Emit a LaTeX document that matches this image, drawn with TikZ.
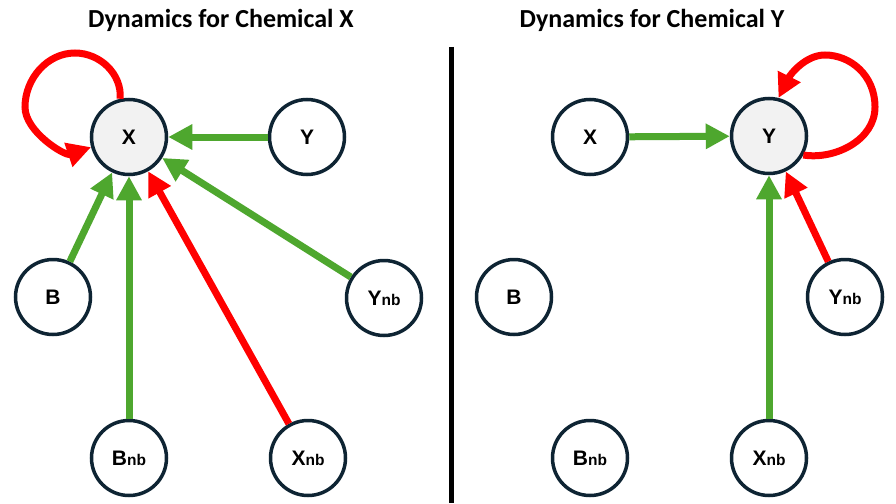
\documentclass[tikz,border=0pt]{standalone}
\usepackage{fontspec}
\setmainfont{Liberation Sans}
\newfontfamily\titlefont{Carlito}
\usepackage{tikz}
\usetikzlibrary{positioning}
\usetikzlibrary{arrows.meta}
\definecolor{nodeline}{HTML}{0E2433}
\definecolor{actgreen}{HTML}{4EA72E}
\definecolor{inhred}{HTML}{FF0000}
\definecolor{mainfill}{HTML}{F2F2F2}
\newcommand{\nbl}[1]{#1{\fontsize{15.5}{15.5}\selectfont nb}}

\begin{document}
\begin{tikzpicture}[x=1pt, y=-1pt,
    species/.style={draw=nodeline, circle, line width=3.5pt, minimum size=75pt, inner sep=0pt, fill=white, font=\bfseries\fontsize{21}{21}\selectfont},
    target/.style={species, fill=mainfill},
    excite/.style={-{Triangle[length=24pt, width=24pt]}, line width=7pt, actgreen},
    inhibit/.style={-{Triangle[length=24pt, width=24pt]}, line width=7pt, inhred},
    paneltitle/.style={anchor=base, font=\titlefont\bfseries\fontsize{26}{26}\selectfont}]

      \useasboundingbox (0,0) rectangle (896,503);
      \fill[white] (0,0) rectangle (896,503);

      % left panel
      \node[paneltitle] (tL) at (221,28) {Dynamics for Chemical X};
      \node[target] (xL) at (129,137) {X};
      \node[species] (yL) at (307,137) {Y};
      \node[species] (bL) at (53,297) {B};
      \node[species] (ynbL) at (384,298) {\nbl{Y}};
      \node[species] (bnbL) at (129,458) {\nbl{B}};
      \node[species] (xnbL) at (308,458) {\nbl{X}};

      \draw[excite] (yL) -- (xL);
      \draw[excite] (bL) -- (xL);
      \draw[excite] (bnbL) -- (xL);
      \draw[excite] (ynbL) -- (xL);
      \draw[inhibit] (xnbL) -- (xL);
      \draw[inhibit] (xL.103) .. controls (122,74) and (100,53) .. (75,53)
        .. controls (47,53) and (25,79) .. (25,107)
        .. controls (25,132) and (65,156) .. (xL.195);

      % divider
      \coordinate (divtop) at (451.5,47);
      \coordinate (divbot) at (451.5,503);
      \draw[line width=5pt] (divtop) -- (divbot);

      % right panel
      \node[paneltitle] (tR) at (652,28) {Dynamics for Chemical Y};
      \node[species] (xR) at (590,137) {X};
      \node[target] (yR) at (769,136) {Y};
      \node[species] (bR) at (514,297) {B};
      \node[species] (ynbR) at (845,297) {\nbl{Y}};
      \node[species] (bnbR) at (590,458) {\nbl{B}};
      \node[species] (xnbR) at (769,458) {\nbl{X}};

      \draw[excite] (xR) -- (yR);
      \draw[excite] (xnbR) -- (yR);
      \draw[inhibit] (ynbR) -- (yR);
      \draw[inhibit] (yR.-29) .. controls (835,160) and (875,140) .. (875,107)
        .. controls (875,75) and (850,55) .. (825,55)
        .. controls (805,55) and (790,75) .. (yR.76);

\end{tikzpicture}
\end{document}
